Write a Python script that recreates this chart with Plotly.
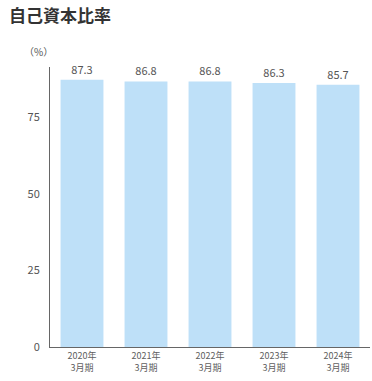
import plotly.graph_objects as go

categories = ["2020年<br>3月期", "2021年<br>3月期", "2022年<br>3月期", "2023年<br>3月期", "2024年<br>3月期"]
values = [87.3, 86.8, 86.8, 86.3, 85.7]
value_labels = ["87.3", "86.8", "86.8", "86.3", "85.7"]
y_ticks = [0, 25, 50, 75]

font_family = "Noto Sans CJK JP, Noto Sans, sans-serif"

L, R, T, B = 50, 2, 67, 34
W, H = 372, 381
PW, PH = W - L - R, H - T - B

def px(x):
    return (x - L) / PW

def py(y):
    return (H - B - y) / PH

fig = go.Figure(go.Bar(
    x=categories, y=values,
    marker=dict(color="#BEE0F8", line=dict(width=0)),
    text=value_labels, textposition="outside",
    textfont=dict(size=11, color="#555555", family=font_family),
    cliponaxis=False,
))

fig.update_layout(
    width=W, height=H,
    margin=dict(l=L, r=R, t=T, b=B, autoexpand=False),
    paper_bgcolor="white", plot_bgcolor="white",
    bargap=0.33,
    showlegend=False,
    font=dict(family=font_family, color="#555555"),
    xaxis=dict(showline=True, linecolor="#666666", linewidth=1, ticks="", automargin=False,
               tickfont=dict(size=9, color="#606060"), showgrid=False, fixedrange=True),
    yaxis=dict(range=[0, 91.5], tickvals=y_ticks, showline=True, linecolor="#666666", linewidth=1,
               ticks="", showgrid=False, zeroline=False, automargin=False,
               tickfont=dict(size=11, color="#555555"), ticklabelstandoff=7),
    annotations=[
        dict(text="<b>自己資本比率</b>", x=px(7), y=py(14), xref="paper", yref="paper", showarrow=False,
             font=dict(size=17, color="#333333"), xanchor="left", yanchor="middle"),
        dict(text="（%）", x=px(38), y=py(52), xref="paper", yref="paper", showarrow=False,
             font=dict(size=10, color="#555555"), xanchor="center", yanchor="middle"),
    ],
)

fig.write_html("out.html", config={"displayModeBar": False},
               post_script="document.body.style.margin='0';document.body.style.overflow='hidden';")
